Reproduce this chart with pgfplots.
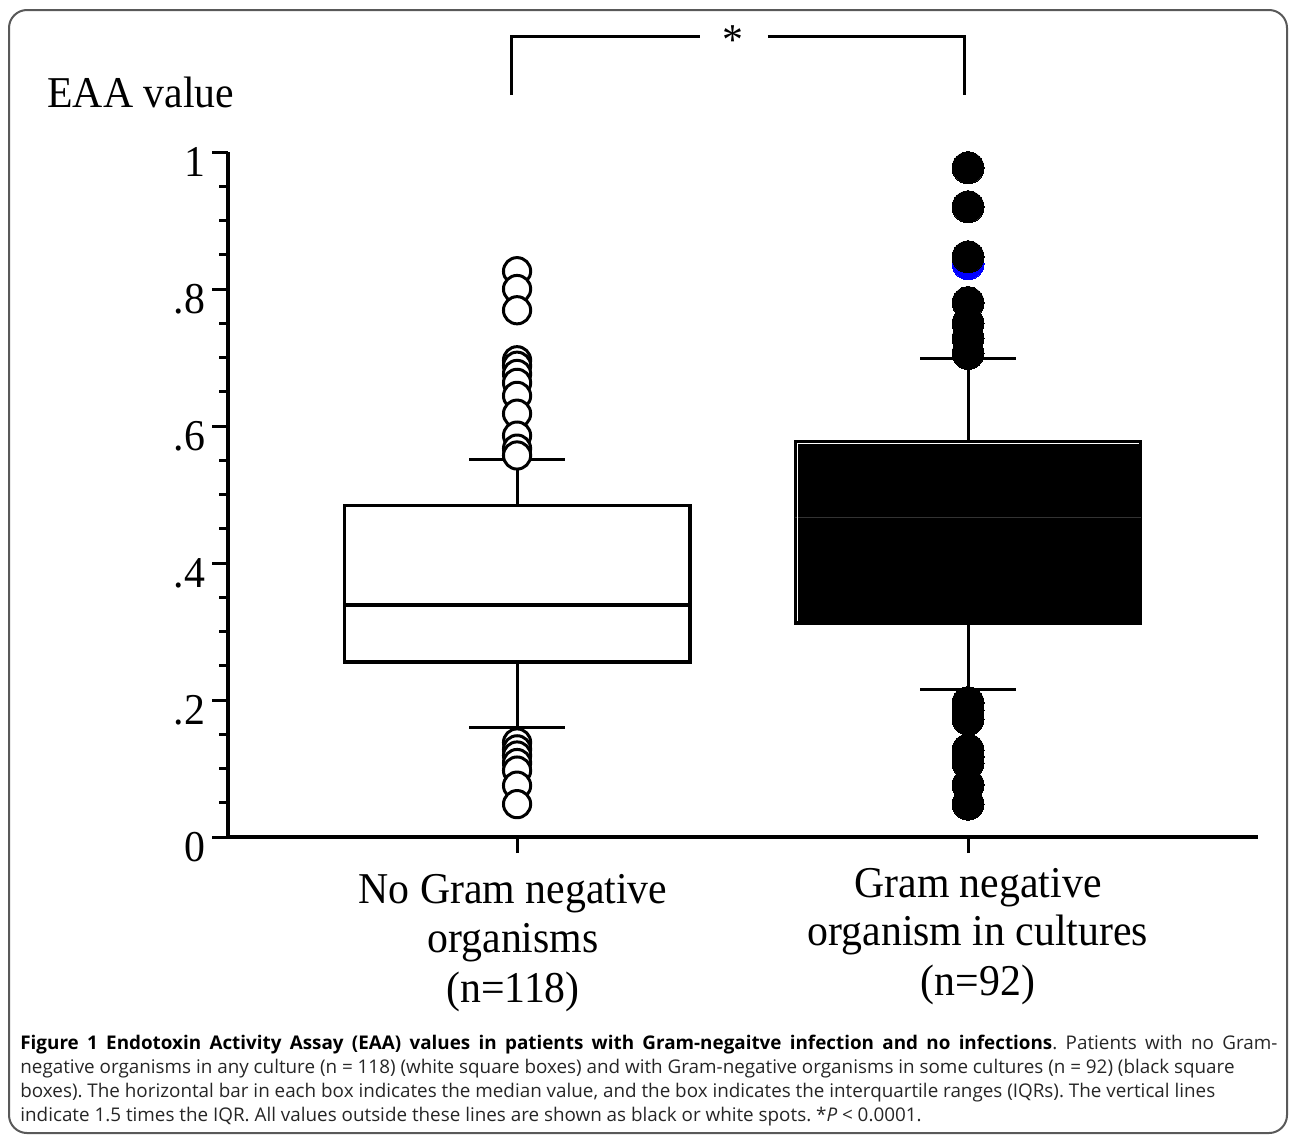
\documentclass[border=0pt]{standalone}
\usepackage{fontspec}
\setmainfont{Liberation Serif}[FakeStretch=0.95]
\newfontfamily\capfont{Open Sans}
\usepackage{pgfplots}
\pgfplotsset{compat=1.18}
\usepgfplotslibrary{statistics}
\newcommand{\bigf}{\fontsize{22}{26}\selectfont}
\begin{document}
\begin{tikzpicture}
\path[use as bounding box] (0,0) rectangle (646.5pt,-567.5pt);
\draw[black!65, line width=1pt, rounded corners=9pt] (4.5pt,-5pt) rectangle (643.5pt,-566.5pt);
\begin{axis}[
  at={(114pt,-418.5pt)}, anchor=south west,
  scale only axis, width=515pt, height=342.5pt,
  xmin=0.359, xmax=2.643, ymin=0, ymax=1,
  axis lines*=left,
  axis line style={line width=1.8pt, black},
  xtick={1,2}, xticklabels={},
  ytick={0,0.2,0.4,0.6,0.8,1},
  yticklabels={0,.2,.4,.6,.8,1},
  minor y tick num=3,
  minor x tick num=0,
  tick align=outside,
  major tick length=8pt, minor tick length=4.5pt,
  tick style={line width=1.5pt, black},
  yticklabel style={font=\bigf, yshift=-5pt},
  clip=false,
  boxplot/draw direction=y,
  boxplot/box extend=0.767,
  boxplot/whisker extend=0.213,
]
% group 1: no Gram negative organisms
\addplot[
  boxplot prepared={draw position=1, lower whisker=0.1606, lower quartile=0.2555,
    median=0.3387, upper quartile=0.4836, upper whisker=0.5518},
  boxplot/every box/.style={draw=black, fill=white, line width=1.6pt},
  boxplot/every median/.style={draw=black, line width=1.6pt},
  boxplot/every whisker/.style={draw=black, line width=1.5pt},
  mark=*, mark size=6.8pt,
  mark options={draw=black, fill=white, line width=1.5pt, solid}
] coordinates {
  (1,0.826) (1,0.800) (1,0.769)
  (1,0.696) (1,0.688) (1,0.676) (1,0.663) (1,0.644) (1,0.618) (1,0.586) (1,0.567) (1,0.557)
  (1,0.138) (1,0.128) (1,0.119) (1,0.108) (1,0.097) (1,0.075) (1,0.048)
};
% blue spot under a black one
\addplot[only marks, mark=*, mark size=8pt, mark options={draw=blue, fill=blue, line width=0pt}]
  coordinates {(2,0.837)};
% group 2: Gram negative organism in cultures
\addplot[
  boxplot prepared={draw position=2, lower whisker=0.215, lower quartile=0.311,
    median=0.466, upper quartile=0.5785, upper whisker=0.698},
  boxplot/every box/.style={draw=black, fill=black, line width=1.2pt},
  boxplot/every median/.style={draw=black!80, line width=0.6pt},
  boxplot/every whisker/.style={draw=black, line width=1.5pt},
  mark=*, mark size=8pt,
  mark options={draw=black, fill=black, line width=0pt, solid}
] coordinates {
  (2,0.977) (2,0.920) (2,0.847) (2,0.780) (2,0.750) (2,0.728) (2,0.706)
  (2,0.196) (2,0.185) (2,0.172) (2,0.127) (2,0.117) (2,0.108) (2,0.076) (2,0.048)
};
\draw[white, line width=0.5pt] (axis cs:1.622,0.5745) -- (axis cs:2.38,0.5745);
\draw[white, line width=0.5pt] (axis cs:1.621,0.5745) -- (axis cs:1.621,0.316);
% significance bracket
\draw[line width=1.5pt, black] (axis cs:0.987,1.083) -- (axis cs:0.987,1.169) -- (axis cs:1.406,1.169);
\draw[line width=1.5pt, black] (axis cs:1.556,1.169) -- (axis cs:1.993,1.169) -- (axis cs:1.993,1.083);
\node[anchor=base, inner sep=0pt, font=\bigf] at (axis cs:1.479,1.143) {*};
% y label
\node[anchor=base west, inner sep=0pt, font=\bigf] at (axis cs:-0.0423,1.0657) {EAA value};
% category labels
\node[anchor=base, inner sep=0pt, font=\bigf] at (axis cs:0.991,-0.0964) {No Gram negative};
\node[anchor=base, inner sep=0pt, font=\bigf] at (axis cs:0.991,-0.168) {organisms};
\node[anchor=base, inner sep=0pt, font=\bigf] at (axis cs:0.991,-0.241) {(n=118)};
\node[anchor=base, inner sep=0pt, font=\bigf] at (axis cs:2.022,-0.0876) {Gram negative};
\node[anchor=base, inner sep=0pt, font=\bigf] at (axis cs:2.022,-0.159) {organism in cultures};
\node[anchor=base, inner sep=0pt, font=\bigf] at (axis cs:2.022,-0.232) {(n=92)};
\end{axis}
\node[anchor=base west, inner sep=0pt, text width=628.5pt, align=justify,
  font=\capfont\fontsize{9.42}{12}\selectfont\frenchspacing, text=black!85] at (10pt,-524.5pt)
{\textbf{\color{black}Figure 1 Endotoxin Activity Assay (EAA) values in patients with Gram-negaitve infection and no infections}. Patients with no Gram-\linebreak
negative organisms in any culture (n = 118) (white square boxes) and with Gram-negative organisms in some cultures (n = 92) (black square\newline
boxes). The horizontal bar in each box indicates the median value, and the box indicates the interquartile ranges (IQRs). The vertical lines\newline
indicate 1.5 times the IQR. All values outside these lines are shown as black or white spots. *\textit{P} < 0.0001.};
\end{tikzpicture}
\end{document}
